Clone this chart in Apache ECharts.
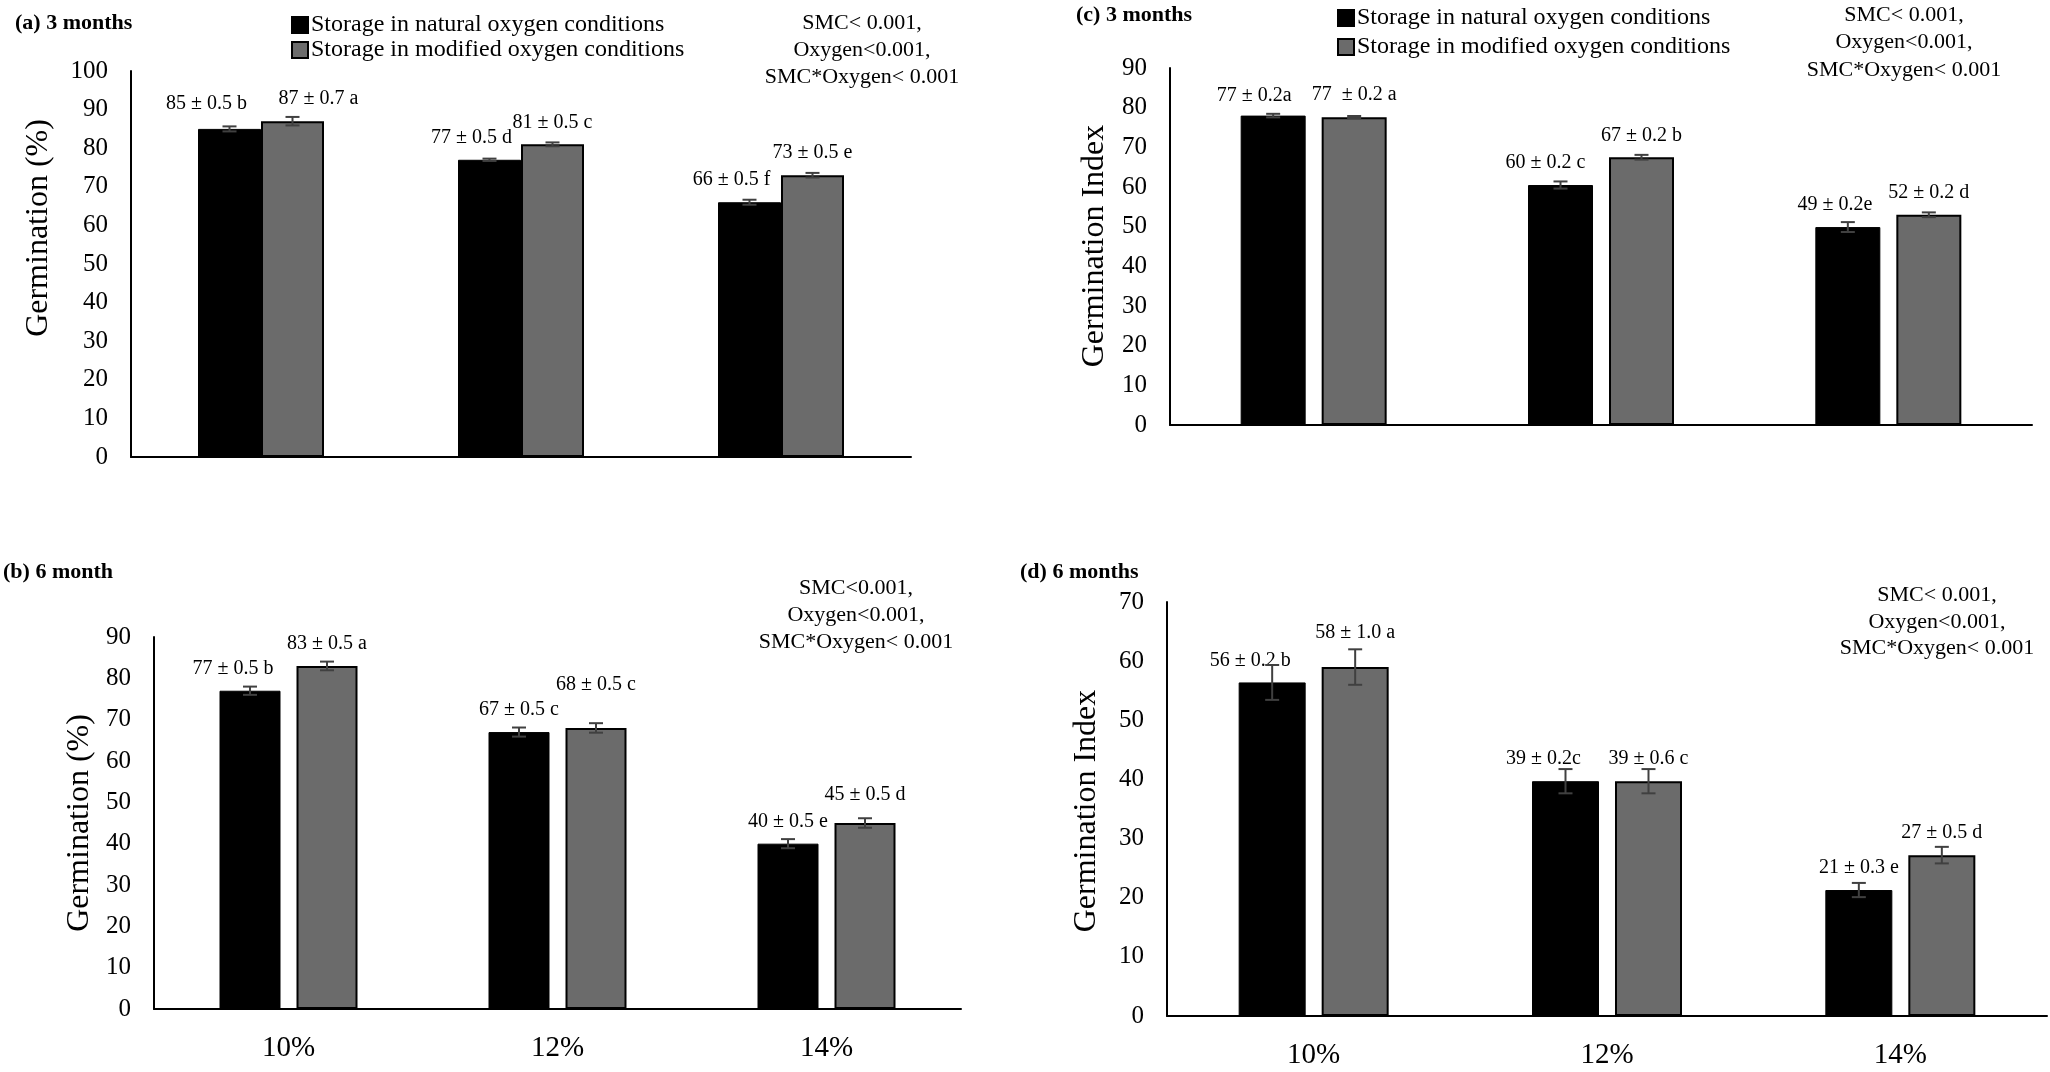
<!DOCTYPE html>
<html><head><meta charset="utf-8">
<script src="https://cdn.jsdelivr.net/npm/echarts@6/dist/echarts.min.js"></script>
<style>html,body{margin:0;padding:0;background:#fff}#c{width:2050px;height:1072px}</style>
</head><body><div id="c"></div>
<script>
// ---------------- DATA ----------------
const categories = ['10%', '12%', '14%'];
const seriesNames = ['Storage in natural oxygen conditions', 'Storage in modified oxygen conditions'];

// (a) Germination (%) – 3 months
const aTicks = [0, 10, 20, 30, 40, 50, 60, 70, 80, 90, 100];
const aNatural = [85, 77, 66];
const aModified = [87, 81, 73];
const aNaturalErr = [0.65, 0.3, 0.65];
const aModifiedErr = [1.1, 0.5, 0.6];
const aNaturalLabels = ['85 ± 0.5 b', '77 ± 0.5 d', '66 ± 0.5 f'];
const aModifiedLabels = ['87 ± 0.7 a', '81 ± 0.5 c', '73 ± 0.5 e'];

// (b) Germination (%) – 6 month
const bTicks = [0, 10, 20, 30, 40, 50, 60, 70, 80, 90];
const bNatural = [77, 67, 40];
const bModified = [83, 68, 45];
const bNaturalErr = [1.0, 1.1, 1.1];
const bModifiedErr = [1.05, 1.15, 1.15];
const bNaturalLabels = ['77 ± 0.5 b', '67 ± 0.5 c', '40 ± 0.5 e'];
const bModifiedLabels = ['83 ± 0.5 a', '68 ± 0.5 c', '45 ± 0.5 d'];

// (c) Germination Index – 3 months
const cTicks = [0, 10, 20, 30, 40, 50, 60, 70, 80, 90];
const cNatural = [78, 60.5, 49.9];
const cModified = [77.6, 67.5, 53];
const cNaturalErr = [0.45, 0.9, 1.25];
const cModifiedErr = [0.3, 0.6, 0.6];
const cNaturalLabels = ['77 ± 0.2a', '60 ± 0.2 c', '49 ± 0.2e'];
const cModifiedLabels = ['77  ± 0.2 a', '67 ± 0.2 b', '52 ± 0.2 d'];

// (d) Germination Index – 6 months
const dTicks = [0, 10, 20, 30, 40, 50, 60, 70];
const dNatural = [56.4, 39.7, 21.3];
const dModified = [59, 39.7, 27.2];
const dNaturalErr = [2.95, 2.05, 1.2];
const dModifiedErr = [3.0, 2.05, 1.4];
const dNaturalLabels = ['56 ± 0.2 b', '39 ± 0.2c', '21 ± 0.3 e'];
const dModifiedLabels = ['58 ± 1.0 a', '39 ± 0.6 c', '27 ± 0.5 d'];

const smcA = ['SMC< 0.001,', 'Oxygen<0.001,', 'SMC*Oxygen< 0.001'];
const smcB = ['SMC<0.001,', 'Oxygen<0.001,', 'SMC*Oxygen< 0.001'];

// ---------------- LAYOUT ----------------
const FONT = '"Liberation Serif", "Times New Roman", serif';
const panels = [
  { title: '(a) 3 months', titlePos: [15, 12], yName: 'Germination (%)', yNamePos: [39, 228],
    grid: { left: 131, top: 71, width: 780, height: 386 }, ticks: aTicks,
    nat: aNatural, mod: aModified, natErr: aNaturalErr, modErr: aModifiedErr,
    natLab: aNaturalLabels, modLab: aModifiedLabels,
    barWidth: 63, gapPx: 0, showX: false,
    natOff: [[-23, -3], [-18, 0], [-18, 0]], modOff: [[26, 0], [0, 0], [0, 0]],
    smc: smcA, smcPos: [862, 10], smcLH: 27,
    legend: { left: 286, top: 8, gap: 1 } },
  { title: '(b) 6 month', titlePos: [3, 561], yName: 'Germination (%)', yNamePos: [80, 823],
    grid: { left: 154, top: 637, width: 807, height: 372 }, ticks: bTicks,
    nat: bNatural, mod: bModified, natErr: bNaturalErr, modErr: bModifiedErr,
    natLab: bNaturalLabels, modLab: bModifiedLabels,
    barWidth: 61, gapPx: 16, showX: true,
    natOff: [[-17, 0], [0, 0], [0, 0]], modOff: [[0, 0], [0, -21], [0, -6]],
    smc: smcB, smcPos: [856, 575], smcLH: 27 },
  { title: '(c) 3 months', titlePos: [1076, 4], yName: 'Germination Index', yNamePos: [1095, 246],
    grid: { left: 1170, top: 68, width: 862, height: 357 }, ticks: cTicks,
    nat: cNatural, mod: cModified, natErr: cNaturalErr, modErr: cModifiedErr,
    natLab: cNaturalLabels, modLab: cModifiedLabels,
    barWidth: 65, gapPx: 16, showX: false,
    natOff: [[-19, 2], [-15, 0], [-13, 0]], modOff: [[0, 0], [0, 0], [0, 0]],
    smc: smcA, smcPos: [1904, 1], smcLH: 27.5,
    legend: { left: 1332, top: 1, gap: 5 } },
  { title: '(d) 6 months', titlePos: [1020, 561], yName: 'Germination Index', yNamePos: [1087, 811],
    grid: { left: 1167, top: 602, width: 880, height: 414 }, ticks: dTicks,
    nat: dNatural, mod: dModified, natErr: dNaturalErr, modErr: dModifiedErr,
    natLab: dNaturalLabels, modLab: dModifiedLabels,
    barWidth: 67, gapPx: 16, showX: true,
    natOff: [[-22, 0], [-22, 0], [0, 0]], modOff: [[0, -12], [0, 0], [0, 0]],
    smc: smcA, smcPos: [1937, 582], smcLH: 26.5 }
];

const BLACK = '#000000', GRAY = '#6b6b6b', ERR = '#404040';

const grids = [], xAxes = [], yAxes = [], series = [], legends = [], graphics = [];

panels.forEach((p, k) => {
  grids.push(Object.assign({ containLabel: false }, p.grid));
  xAxes.push({
    type: 'category', gridIndex: k, data: categories,
    axisLine: { lineStyle: { color: '#000', width: 2 } },
    axisTick: { show: false },
    axisLabel: { show: p.showX, fontFamily: FONT, fontSize: 29, color: '#000', margin: 25 }
  });
  const t = p.ticks;
  yAxes.push({
    type: 'value', gridIndex: k, min: t[0], max: t[t.length - 1], interval: t[1] - t[0],
    axisLine: { show: true, lineStyle: { color: '#000', width: 2 } },
    axisTick: { show: false }, splitLine: { show: false },
    axisLabel: { fontFamily: FONT, fontSize: 25, color: '#000', margin: 23 }
  });
  const half = (p.barWidth + p.gapPx) / 2;
  const mk = (vals, labs, offs, color, name, border) => ({
    type: 'bar', name: name, xAxisIndex: k, yAxisIndex: k,
    barWidth: p.barWidth, barGap: (p.gapPx / p.barWidth * 100) + '%',
    itemStyle: { color: color, borderColor: '#000', borderWidth: border },
    label: {
      show: true, position: 'top', distance: 12, fontFamily: FONT, fontSize: 20, color: '#000',
      formatter: (q) => labs[q.dataIndex]
    },
    data: vals.map((v, i) => ({ value: v, label: { offset: offs[i] } }))
  });
  series.push(mk(p.nat, p.natLab, p.natOff, BLACK, seriesNames[0], 1));
  series.push(mk(p.mod, p.modLab, p.modOff, GRAY, seriesNames[1], 2));
  const errSeries = (vals, errs, dx) => ({
    type: 'custom', xAxisIndex: k, yAxisIndex: k, z: 5, silent: true,
    encode: { x: 0, y: 1 },
    data: vals.map((v, i) => [i, v, errs[i]]),
    renderItem: (params, api) => {
      const i = api.value(0), v = api.value(1), e = api.value(2);
      const top = api.coord([i, v + e]);
      const bot = api.coord([i, v - e]);
      const x = top[0] + dx;
      const cap = 7;
      const st = { stroke: ERR, lineWidth: 2 };
      return { type: 'group', children: [
        { type: 'line', shape: { x1: x, y1: top[1], x2: x, y2: bot[1] }, style: st },
        { type: 'line', shape: { x1: x - cap, y1: top[1], x2: x + cap, y2: top[1] }, style: st },
        { type: 'line', shape: { x1: x - cap, y1: bot[1], x2: x + cap, y2: bot[1] }, style: st }
      ] };
    }
  });
  series.push(errSeries(p.nat, p.natErr, -half));
  series.push(errSeries(p.mod, p.modErr, half));

  if (p.legend) {
    legends.push({
      data: seriesNames, orient: 'vertical', left: p.legend.left, top: p.legend.top,
      itemGap: p.legend.gap, itemWidth: 16, itemHeight: 16, icon: 'rect',
      textStyle: { fontFamily: FONT, fontSize: 24, color: '#000', padding: [0, 0, 0, -2] },
      selectedMode: false
    });
  }
  graphics.push({
    type: 'text', x: p.titlePos[0], y: p.titlePos[1],
    style: { text: p.title, font: 'bold 22px ' + FONT, fill: '#000', textVerticalAlign: 'top' }
  });
  graphics.push({
    type: 'text', x: p.smcPos[0], y: p.smcPos[1],
    style: { text: p.smc.join('\n'), font: '22px ' + FONT, fill: '#000', textAlign: 'center',
             textVerticalAlign: 'top', lineHeight: p.smcLH }
  });
  graphics.push({
    type: 'text', x: p.yNamePos[0], y: p.yNamePos[1], rotation: Math.PI / 2,
    style: { text: p.yName, font: '32px ' + FONT, fill: '#000', textAlign: 'center',
             textVerticalAlign: 'middle' }
  });
});

const chart = echarts.init(document.getElementById('c'), null, { renderer: 'canvas' });
chart.setOption({
  animation: false,
  backgroundColor: '#fff',
  grid: grids, xAxis: xAxes, yAxis: yAxes, series: series,
  legend: legends, graphic: graphics
});
</script></body></html>
